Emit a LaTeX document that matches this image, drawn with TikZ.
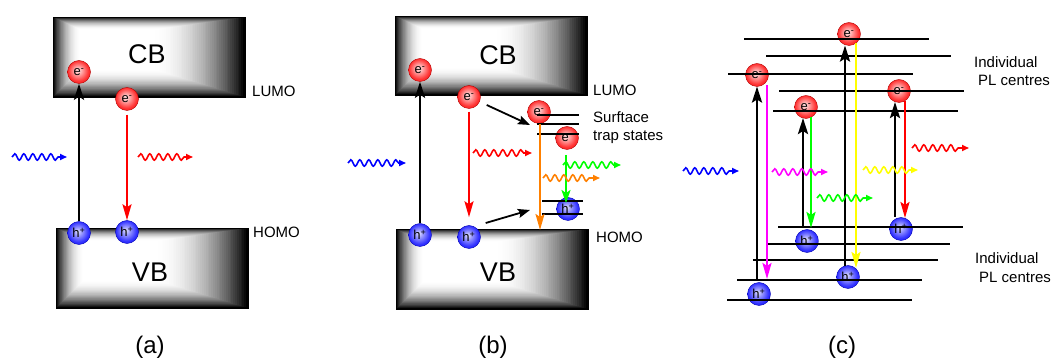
\documentclass[tikz,border=0pt]{standalone}
\usepackage{fontspec}
\setmainfont{Liberation Sans}
\usetikzlibrary{arrows.meta,decorations.pathmorphing}
\definecolor{cmag}{RGB}{255,0,255}
\definecolor{cgreen}{RGB}{0,255,0}
\definecolor{cyel}{RGB}{255,255,0}
\definecolor{corange}{RGB}{255,128,0}
\definecolor{cred}{RGB}{255,0,0}
\definecolor{cblue}{RGB}{0,0,255}
\pgfdeclareradialshading{eshade}{\pgfpoint{-3bp}{4bp}}{color(0bp)=(red!8); color(7bp)=(red!30); color(22bp)=(red!80); color(38bp)=(red); color(50bp)=(red!85!black)}
\pgfdeclareradialshading{hshade}{\pgfpoint{-3bp}{4bp}}{color(0bp)=(blue!10); color(7bp)=(blue!35); color(22bp)=(blue!80); color(38bp)=(blue); color(50bp)=(blue!85!black)}
\newcommand\bandbox[4]{%
  \foreach \i in {0,...,50}{%
    \pgfmathsetmacro\tt{\i/50}%
    \pgfmathsetmacro\pc{100*(1-\tt)^2}%
    \fill[black!\pc] ({#1+28*\tt},{#2+13*\tt}) rectangle ({#3-92*\tt},{#4-28*\tt});
  }%
  \draw[line width=0.8pt] (#1,#2) rectangle (#3,#4);%
}
\tikzset{
  elec/.style={circle, minimum size=23pt, inner sep=0pt, shading=eshade, draw=red!70!black, line width=0.4pt, font=\fontsize{13}{13}\selectfont},
  hole/.style={circle, minimum size=23pt, inner sep=0pt, shading=hshade, draw=blue!70!black, line width=0.4pt, font=\fontsize{13}{13}\selectfont},
  lvl/.style={line width=2.5pt},
  tlvl/.style={line width=1.7pt},
  excite/.style={line width=2.8pt, -{Stealth[length=16pt,width=10pt,inset=3pt]}},
  emit/.style={line width=2.3pt, -{Stealth[length=16pt,width=9pt,inset=3pt]}},
  relax/.style={line width=1.8pt, -{Stealth[length=12pt,width=9pt,inset=2pt]}},
  wave/.style={decorate, decoration={snake, amplitude=3.2pt, segment length=9pt, post length=7pt}, line width=1.6pt, -{Triangle[length=7pt,width=6pt]}},
  lab/.style={font=\fontsize{15}{15}\selectfont, anchor=west, inner sep=0pt},
  bandlab/.style={font=\fontsize{27}{27}\selectfont},
  caplab/.style={font=\fontsize{24}{24}\selectfont}
}
\begin{document}
\begin{tikzpicture}[x=1pt,y=-1pt]
\useasboundingbox (0,0) rectangle (1055,363);
\fill[white] (0,0) rectangle (1055,363);

% ---------- panel (a) ----------
\bandbox{53}{17}{245}{97}
\bandbox{56}{228}{248}{308}
\node[bandlab] (cbA) at (147,54) {CB};
\node[bandlab] (vbA) at (150,272) {VB};
\node[lab] (lumoA) at (252,91) {LUMO};
\node[lab] (homoA) at (253,232) {HOMO};
\node[elec] (eA1) at (79,72) {e\textsuperscript{-}};
\node[elec] (eA2) at (127,99) {e\textsuperscript{-}};
\node[hole] (hA1) at (79,233) {h\textsuperscript{+}};
\node[hole] (hA2) at (127,232) {h\textsuperscript{+}};
\draw[excite] (hA1.north) -- (eA1.south);
\draw[emit,cred,shorten <=4pt] (eA2.south) -- (hA2.north);
\coordinate (wA1) at (12,157); \coordinate (wA2) at (67,157);
\coordinate (wA3) at (138,157); \coordinate (wA4) at (193,157);
\draw[wave,cblue] (wA1) -- (wA2);
\draw[wave,cred] (wA3) -- (wA4);
\node[caplab] (capA) at (150,347) {(a)};

% ---------- panel (b) ----------
\bandbox{395}{16}{587}{95}
\bandbox{396}{229}{588}{309}
\node[bandlab] (cbB) at (498,55) {CB};
\node[bandlab] (vbB) at (498,272) {VB};
\node[lab] (lumoB) at (593,90) {LUMO};
\node[lab] (homoB) at (596,237) {HOMO};
\node[lab] (surfB) at (593,117) {Surftace};
\node[lab] (trapB) at (593,137) {trap states};
\node[elec] (eB1) at (420,70) {e\textsuperscript{-}};
\node[elec] (eB2) at (469,97) {e\textsuperscript{-}};
\node[elec] (eB3) at (539,112) {e\textsuperscript{-}};
\node[elec] (eB4) at (567,138) {e\textsuperscript{-}};
\node[hole] (hB1) at (420,235) {h\textsuperscript{+}};
\node[hole] (hB2) at (469,237) {h\textsuperscript{+}};
\node[hole] (hB3) at (568,209) {h\textsuperscript{+}};
\draw[tlvl] (537,115) -- (579,115);
\draw[tlvl] (537,124) -- (579,124);
\draw[tlvl] (537,134) -- (579,134);
\draw[tlvl] (542,201) -- (583,201);
\draw[tlvl] (542,214) -- (583,214);
\draw[excite] (hB1.north) -- (eB1.south);
\draw[emit,cred,shorten <=3pt,shorten >=8pt] (eB2.south) -- (hB2.north);
\coordinate (tB1) at (530,125); \coordinate (tB2) at (530,210);
\draw[relax] (eB2.east) ++(6,8) coordinate (sB1) (sB1) -- (tB1);
\draw[relax] (hB2.east) ++(5,-14) coordinate (sB2) (sB2) -- (tB2);
\coordinate (oB1) at (540,124); \coordinate (oB2) at (540,230);
\draw[emit,corange,line width=2pt] (oB1) -- (oB2);
\coordinate (gB1) at (566,155); \coordinate (gB2) at (566,203);
\draw[emit,cgreen,line width=2pt,-{Stealth[length=13pt,width=9pt,inset=3pt]}] (gB1) -- (gB2);
\coordinate (wB1) at (348,163); \coordinate (wB2) at (406,163);
\coordinate (wB3) at (473,153); \coordinate (wB4) at (532,153);
\coordinate (wB5) at (563,165); \coordinate (wB6) at (621,165);
\coordinate (wB7) at (543,178); \coordinate (wB8) at (600,178);
\draw[wave,cblue] (wB1) -- (wB2);
\draw[wave,cred] (wB3) -- (wB4);
\draw[wave,cgreen] (wB5) -- (wB6);
\draw[wave,corange] (wB7) -- (wB8);
\node[caplab] (capB) at (493,347) {(b)};

% ---------- panel (c) ----------
\node[elec] (ce1) at (849,34) {e\textsuperscript{-}};
\node[elec] (ce2) at (757,75) {e\textsuperscript{-}};
\node[elec] (ce3) at (806,107) {e\textsuperscript{-}};
\node[elec] (ce4) at (899,91) {e\textsuperscript{-}};
\node[hole] (ch1) at (759,294) {h\textsuperscript{+}};
\node[hole] (ch2) at (807,241) {h\textsuperscript{+}};
\node[hole] (ch3) at (848,277) {h\textsuperscript{+}};
\node[hole] (ch4) at (901,229) {h\textsuperscript{+}};
\draw[lvl] (744,39) -- (929,39);
\draw[lvl] (766,56) -- (951,56);
\draw[lvl] (728,74) -- (913,74);
\draw[lvl] (779,91) -- (964,91);
\draw[lvl] (773,111) -- (958,111);
\draw[lvl] (778,227) -- (963,227);
\draw[lvl] (766,244) -- (950,244);
\draw[lvl] (753,260) -- (938,260);
\draw[lvl] (737,280) -- (922,280);
\draw[lvl] (727,300) -- (912,300);
\coordinate (cA1) at (757,280); \coordinate (cA2) at (757,86.5);
\coordinate (cA3) at (803,227); \coordinate (cA4) at (803,118);
\coordinate (cA5) at (845,266); \coordinate (cA6) at (845,45.5);
\coordinate (cA7) at (895,217); \coordinate (cA8) at (895,102);
\draw[excite] (cA1) -- (cA2);
\draw[excite] (cA3) -- (cA4);
\draw[excite] (cA5) -- (cA6);
\draw[excite] (cA7) -- (cA8);
\coordinate (cE1) at (767,85);  \coordinate (cE2) at (767,279);
\coordinate (cE3) at (811,117); \coordinate (cE4) at (811,228);
\coordinate (cE5) at (856,43);  \coordinate (cE6) at (856,268);
\coordinate (cE7) at (905,101); \coordinate (cE8) at (905,218);
\draw[emit,cmag] (cE1) -- (cE2);
\draw[emit,cgreen] (cE3) -- (cE4);
\draw[emit,cyel] (cE5) -- (cE6);
\draw[emit,cred] (cE7) -- (cE8);
\coordinate (wC1) at (683,171); \coordinate (wC2) at (739,171);
\coordinate (wC3) at (772,172); \coordinate (wC4) at (828,172);
\coordinate (wC5) at (817,198); \coordinate (wC6) at (873,198);
\coordinate (wC7) at (863,170); \coordinate (wC8) at (918,170);
\coordinate (wC9) at (912,148); \coordinate (wC10) at (969,148);
\draw[wave,cblue] (wC1) -- (wC2);
\draw[wave,cmag] (wC3) -- (wC4);
\draw[wave,cgreen] (wC5) -- (wC6);
\draw[wave,cyel] (wC7) -- (wC8);
\draw[wave,cred] (wC9) -- (wC10);
\node[lab] (indC1) at (974,62) {Individual};
\node[lab] (plC1) at (978,80) {PL centres};
\node[lab] (indC2) at (975,258) {Individual};
\node[lab] (plC2) at (979,277) {PL centres};
\node[caplab] (capC) at (842,347) {(c)};
\end{tikzpicture}
\end{document}
